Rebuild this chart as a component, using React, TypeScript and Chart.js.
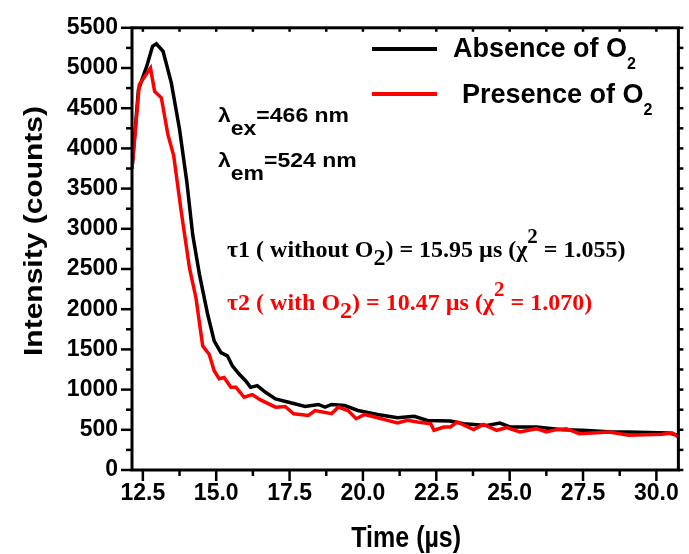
import React, { useEffect, useRef } from 'react';
import { Chart, registerables } from 'chart.js';

Chart.register(...registerables);

// ---- data ----
const blackTime = [12.13, 12.35, 12.63, 12.83, 12.96, 13.19, 13.47, 13.75, 14.0, 14.2, 14.43, 14.71, 14.93, 15.16, 15.38, 15.55, 15.78, 16.0, 16.17, 16.4, 16.68, 17.02, 17.47, 18.03, 18.48, 18.71, 18.93, 19.38, 19.83, 20.5, 21.18, 21.75, 22.2, 22.97, 23.44, 24.22, 24.67, 25.01, 25.91, 26.81, 27.49, 28.5, 29.05, 30.41, 30.75];
const blackIntensity = [3745, 4730, 5020, 5270, 5300, 5206, 4815, 4238, 3580, 2922, 2430, 1934, 1605, 1460, 1420, 1296, 1193, 1111, 1028, 1050, 967, 885, 843, 790, 815, 782, 815, 802, 740, 691, 650, 667, 617, 608, 576, 555, 584, 535, 535, 502, 494, 473, 473, 461, 432];

const redTime = [12.13, 12.38, 12.76, 12.9, 13.13, 13.35, 13.55, 13.81, 14.09, 14.31, 14.54, 14.76, 14.93, 15.1, 15.27, 15.5, 15.67, 15.95, 16.23, 16.51, 17.02, 17.35, 17.64, 18.14, 18.37, 18.93, 19.16, 19.49, 19.77, 20.06, 20.5, 20.84, 21.18, 21.52, 21.86, 22.31, 22.42, 22.76, 22.98, 23.21, 23.77, 24.11, 24.56, 24.9, 25.35, 25.91, 26.25, 26.59, 26.93, 27.38, 28.39, 29.06, 30.19, 30.53, 30.75];
const redIntensity = [3750, 4795, 5000, 4710, 4630, 4177, 3910, 3210, 2510, 2140, 1543, 1440, 1235, 1135, 1150, 1030, 1030, 905, 938, 872, 782, 790, 700, 679, 740, 700, 782, 740, 638, 691, 650, 617, 584, 617, 597, 576, 494, 535, 535, 597, 502, 568, 494, 527, 473, 514, 473, 502, 514, 452, 473, 432, 444, 461, 411];

const xTickValues = [12.5, 15, 17.5, 20, 22.5, 25, 27.5, 30];
const xMinorStep = 1.25;
const yMinorStep = 250;
const xRange = [12.13, 30.75];
const yRange = [0, 5500];

const seriesLabels = ['Absence of O', 'Presence of O'];
const tauLines = [
  ['\u03c41 ( without O', '2', ') = 15.95 \u00b5s (\u03c7', '2', ' = 1.055)'],
  ['\u03c42 ( with O', '2', ') = 10.47 \u00b5s (\u03c7', '2', ' = 1.070)'],
];
const lambdaLines = [
  ['\u03bb', 'ex', '=466 nm'],
  ['\u03bb', 'em', '=524 nm'],
];

const SANS = '"Liberation Sans", Arial, sans-serif';
const SERIF = '"Liberation Serif", "Times New Roman", serif';

type Seg = { t: string; font: string; dy?: number; sx?: number; sy?: number };

function drawSeq(ctx: CanvasRenderingContext2D, x: number, y: number, color: string, segs: Seg[]) {
  let cx = x;
  for (const s of segs) {
    ctx.save();
    ctx.font = s.font;
    ctx.fillStyle = color;
    ctx.textAlign = 'left';
    ctx.textBaseline = 'alphabetic';
    const sx = s.sx ?? 1;
    const sy = s.sy ?? 1;
    ctx.translate(cx, y + (s.dy ?? 0));
    ctx.scale(sx, sy);
    ctx.fillText(s.t, 0, 0);
    cx += ctx.measureText(s.t).width * sx;
    ctx.restore();
  }
}

export default function App() {
  const ref = useRef<HTMLCanvasElement>(null);

  useEffect(() => {
    const canvas = ref.current;
    if (!canvas) return;

    const decor = {
      id: 'decor',
      afterDraw(chart: any) {
        const ctx: CanvasRenderingContext2D = chart.ctx;
        const xs = chart.scales.x;
        const ys = chart.scales.y;
        const { left, right, top, bottom } = chart.chartArea;
        const ln = (x1: number, y1: number, x2: number, y2: number) => {
          ctx.beginPath();
          ctx.moveTo(x1, y1);
          ctx.lineTo(x2, y2);
          ctx.stroke();
        };
        ctx.save();
        ctx.strokeStyle = '#000';
        ctx.lineCap = 'butt';
        // y ticks
        ctx.lineWidth = 2.5;
        for (let v = yRange[0]; v <= yRange[1] + 1e-6; v += yMinorStep) {
          const py = ys.getPixelForValue(v);
          const major = Math.abs(v % 500) < 1e-6;
          ln(left - (major ? 11 : 6), py, left, py);
          ln(right, py, right + 5, py);
        }
        // x ticks
        for (let v = 12.5; v <= xRange[1] + 1e-6; v += xMinorStep) {
          const px = xs.getPixelForValue(v);
          const major = Math.abs(((v - 12.5) / 2.5) - Math.round((v - 12.5) / 2.5)) < 1e-6;
          ln(px, bottom, px, bottom + (major ? 11 : 6));
          ln(px, top, px, top + 4);
        }
        // frame
        ctx.lineWidth = 3;
        ctx.strokeRect(left, top, right - left, bottom - top);
        ctx.restore();

        // axis titles
        ctx.save();
        ctx.fillStyle = '#000';
        ctx.font = `700 25px ${SANS}`;
        ctx.textAlign = 'center';
        ctx.textBaseline = 'alphabetic';
        ctx.translate((left + right) / 2 + 1, 547);
        ctx.scale(1, 1.2);
        ctx.fillText('Time (\u00b5s)', 0, 0);
        ctx.restore();

        ctx.save();
        ctx.fillStyle = '#000';
        ctx.font = `700 25px ${SANS}`;
        ctx.textAlign = 'center';
        ctx.textBaseline = 'alphabetic';
        ctx.translate(42, 231);
        ctx.rotate(-Math.PI / 2);
        ctx.scale(1.2, 1);
        ctx.fillText('Intensity (counts)', 0, 0);
        ctx.restore();

        // legend
        const legendColors = ['#000000', '#ff0000'];
        const legendY = [49, 94];
        const legendTextX = [453, 462];
        const legendBase = [57, 103];
        for (let i = 0; i < 2; i++) {
          ctx.save();
          ctx.strokeStyle = legendColors[i];
          ctx.lineWidth = 4;
          ln(372, legendY[i], 437, legendY[i]);
          ctx.restore();
          drawSeq(ctx, legendTextX[i], legendBase[i], '#000', [
            { t: seriesLabels[i], font: `700 27px ${SANS}` },
            { t: '2', font: `700 16px ${SANS}`, dy: 12 },
          ]);
        }

        // lambda annotations
        const lamBase = [122, 167];
        for (let i = 0; i < 2; i++) {
          const [a, b, c] = lambdaLines[i];
          drawSeq(ctx, 218, lamBase[i], '#000', [
            { t: a, font: `700 23px ${SANS}`, sy: 0.9 },
            { t: b, font: `700 23px ${SANS}`, dy: 13, sy: 0.9 },
            { t: c, font: `700 23px ${SANS}`, sy: 0.9 },
          ]);
        }

        // tau annotations
        const tauBase = [257, 310];
        const tauColors = ['#000000', '#ff0000'];
        for (let i = 0; i < 2; i++) {
          const [a, b, c, d, e] = tauLines[i];
          drawSeq(ctx, 227, tauBase[i], tauColors[i], [
            { t: a, font: `700 24px ${SERIF}` },
            { t: b, font: `700 24px ${SERIF}`, dy: 8 },
            { t: c, font: `700 24px ${SERIF}` },
            { t: d, font: `700 21px ${SERIF}`, dy: -14 },
            { t: e, font: `700 24px ${SERIF}` },
          ]);
        }
      },
    };

    const chart = new Chart(canvas, {
      type: 'line',
      data: {
        datasets: [
          {
            label: seriesLabels[0],
            data: blackTime.map((t, i) => ({ x: t, y: blackIntensity[i] })),
            borderColor: '#000000',
            backgroundColor: '#000000',
            borderWidth: 3.5,
            pointRadius: 0,
            tension: 0,
            order: 1,
          },
          {
            label: seriesLabels[1],
            data: redTime.map((t, i) => ({ x: t, y: redIntensity[i] })),
            borderColor: '#ff0000',
            backgroundColor: '#ff0000',
            borderWidth: 3.5,
            pointRadius: 0,
            tension: 0,
            order: 0,
          },
        ],
      },
      options: {
        responsive: false,
        animation: false,
        devicePixelRatio: 1,
        layout: { padding: { top: 22, right: 6, left: 0, bottom: 0 } },
        plugins: {
          legend: { display: false },
          tooltip: { enabled: false },
          title: { display: false },
        },
        scales: {
          x: {
            type: 'linear',
            min: xRange[0],
            max: xRange[1],
            grid: { display: false, drawTicks: false },
            border: { display: false },
            afterBuildTicks: (scale: any) => {
              scale.ticks = xTickValues.map((v) => ({ value: v }));
            },
            afterFit: (scale: any) => {
              scale.height = 84;
            },
            ticks: {
              autoSkip: false,
              maxRotation: 0,
              padding: 10,
              color: '#000',
              font: { family: SANS, size: 23, weight: 'bold' },
              callback: (v: any) => Number(v).toFixed(1),
            },
          },
          y: {
            type: 'linear',
            min: yRange[0],
            max: yRange[1],
            grid: { display: false, drawTicks: false },
            border: { display: false },
            afterFit: (scale: any) => {
              scale.width = 132;
            },
            ticks: {
              stepSize: 500,
              padding: 14,
              color: '#000',
              font: { family: SANS, size: 23, weight: 'bold' },
              callback: (v: any) => String(v),
            },
          },
        },
      },
      plugins: [decor],
    } as any);

    return () => chart.destroy();
  }, []);

  return (
    <div style={{ position: 'absolute', left: 0, top: 0, width: 689, height: 554, background: '#fff' }}>
      <canvas ref={ref} width={689} height={554} style={{ display: 'block', width: 689, height: 554 }} />
    </div>
  );
}
